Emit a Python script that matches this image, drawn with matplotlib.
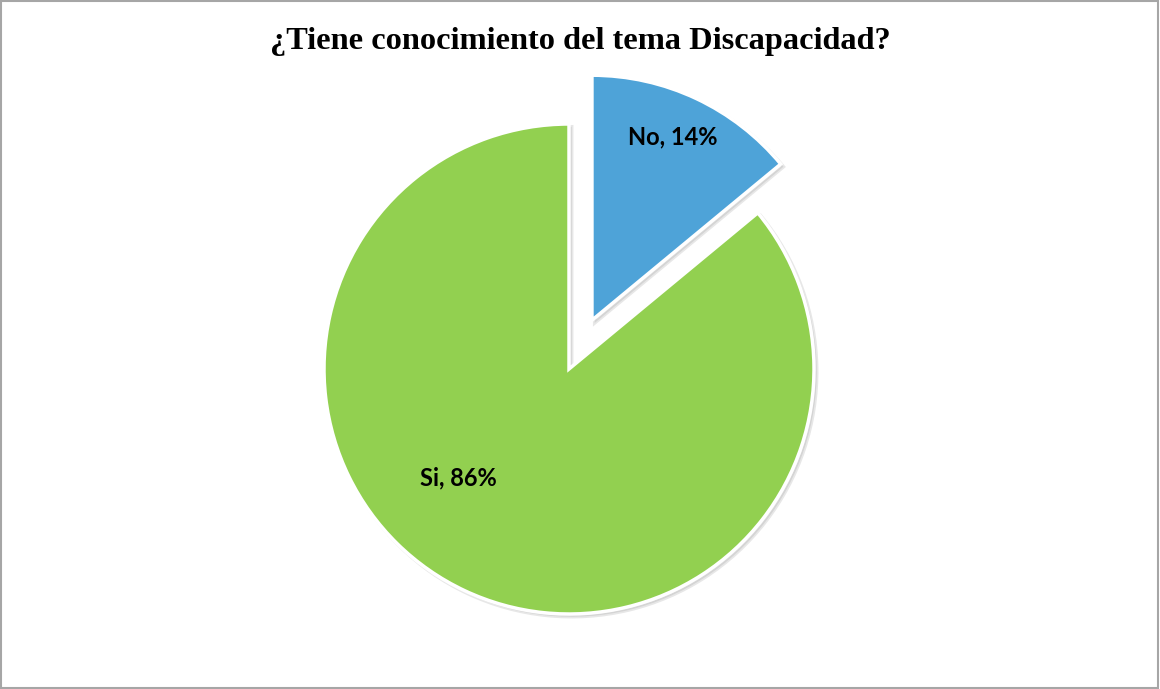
import matplotlib
matplotlib.use("Agg")
import matplotlib.pyplot as plt
from matplotlib.patches import Rectangle

title = "¿Tiene conocimiento del tema Discapacidad?"
categories = ["No", "Si"]
shares = [14, 86]
colors = ["#4EA3D8", "#92D050"]
explode = [0.22, 0.0]

W, H = 1160, 689
fig = plt.figure(figsize=(W / 100, H / 100), dpi=100)
fig.patch.set_facecolor("white")

# pie centre ~ (569, 369) px, radius ~245 px
cx, cy, r, half = 569, 369, 245, 300
ax = fig.add_axes([(cx - half) / W, (H - cy - half) / H, 2 * half / W, 2 * half / H])

wedges, texts = ax.pie(
    shares, colors=colors, explode=explode, startangle=90, counterclock=False,
    radius=1.0, wedgeprops=dict(edgecolor="white", linewidth=2.5),
    labels=[f"{c}, {s}%" for c, s in zip(categories, shares)], labeldistance=0.7,
    shadow=dict(ox=0.008, oy=-0.008, alpha=0.2, shade=0.0, color="#888888"),
)
lim = half / r
ax.set_xlim(-lim, lim)
ax.set_ylim(-lim, lim)
ax.set_aspect("equal")

# label placement as in the source chart
label_pos = [(0.424, 0.947), (-0.453, -0.445)]
for t, pos in zip(texts, label_pos):
    t.set_position(pos)
    t.set_ha("center")
    t.set_va("center")
    t.set_fontsize(17)
    t.set_fontweight("bold")
    t.set_family("Lato")
    t.set_color("black")

fig.text(0.5, 1 - 42 / H, title, ha="center", va="center", fontsize=23.3,
         fontweight="bold", family="Liberation Serif")

fig.patches.append(Rectangle((0.001, 0.002), 0.997, 0.996, transform=fig.transFigure,
                             fill=False, edgecolor="#A6A6A6", linewidth=1.5))

fig.savefig("out.png", dpi=100)
